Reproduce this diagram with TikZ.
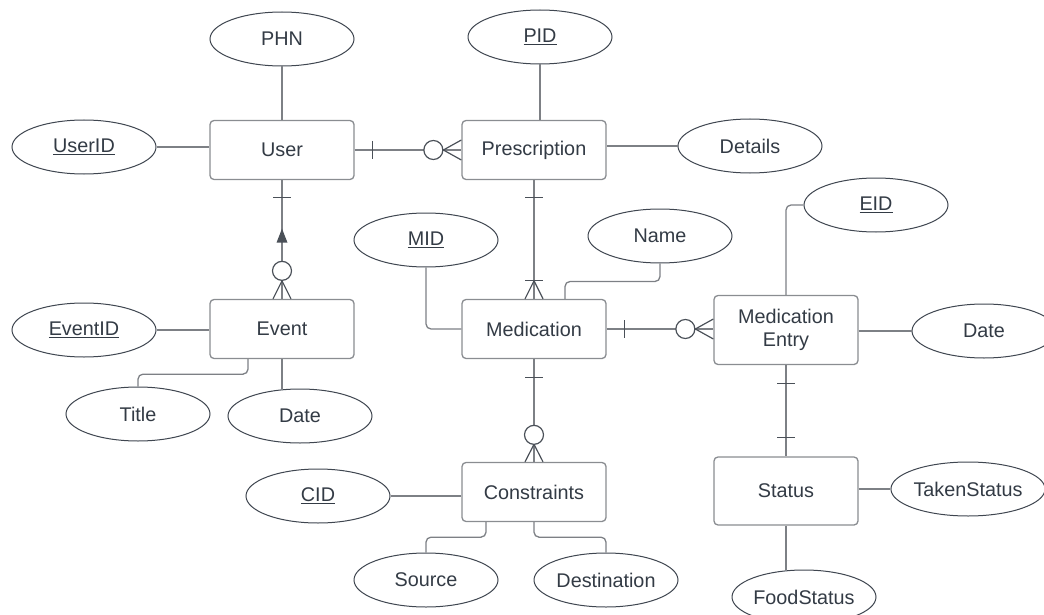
\documentclass[tikz,border=0pt]{standalone}
\usepackage{fontspec}
\setmainfont{Liberation Sans}
\usetikzlibrary{shapes.geometric}
\definecolor{txt}{HTML}{333B45}
\definecolor{entline}{HTML}{8A8D91}
\definecolor{ellline}{HTML}{3F4650}
\definecolor{conline}{HTML}{7D8085}
\definecolor{markline}{HTML}{4A5058}
\begin{document}
\begin{tikzpicture}[x=1pt,y=-1pt,
  every node/.style={font=\fontsize{19.8}{23}\selectfont, text=txt},
  entity/.style={draw=entline, line width=1.3pt, rounded corners=4pt,
    minimum width=144pt, minimum height=59pt, fill=white, align=center, inner sep=0pt},
  attr/.style={draw=ellline, line width=1pt, ellipse, fill=white,
    minimum width=144pt, minimum height=54pt, inner sep=0pt},
  conn/.style={draw=conline, line width=1.3pt},
  elbow/.style={conn, rounded corners=5pt},
  crow/.style={draw=markline, line width=1.2pt},
  ]
\useasboundingbox (0,0) rectangle (1044,615);
\clip (0,0) rectangle (1044,615);

% entities
\node[entity] (user)   at (282,150)   {User};
\node[entity] (presc)  at (534,150)   {Prescription};
\node[entity] (event)  at (282,329)   {Event};
\node[entity] (med)    at (534,329)   {Medication};
\node[entity, minimum height=69pt] (mentry) at (786,330) {Medication\\Entry};
\node[entity] (cons)   at (534,492)   {Constraints};
\node[entity, minimum height=68pt] (status) at (786,491) {Status};

% attributes
\node[attr] (phn)     at (282,39)  {PHN};
\node[attr] (userid)  at (84,147)  {\underline{UserID}};
\node[attr] (pid)     at (540,37)  {\underline{PID}};
\node[attr] (details) at (750,146) {Details};
\node[attr] (eid)     at (876,205) {\underline{EID}};
\node[attr] (name)    at (660,236) {Name};
\node[attr] (mid)     at (426,240) {\underline{MID}};
\node[attr] (eventid) at (84,330)  {\underline{EventID}};
\node[attr] (dateme)  at (984,331) {Date};
\node[attr] (title)   at (138,414) {Title};
\node[attr] (dateev)  at (300,416) {Date};
\node[attr] (cid)     at (318,496) {\underline{CID}};
\node[attr] (source)  at (426,580) {Source};
\node[attr] (dest)    at (606,580) {Destination};
\node[attr] (taken)   at (968,489) {TakenStatus};
\node[attr] (food)    at (804,597) {FoodStatus};

% attribute links
\draw[conn] (phn) -- (user);
\draw[conn] (userid.east) -- (userid.east -| user.west);
\draw[conn] (pid.south) -- (pid.south |- presc.north);
\draw[conn] (details.west) -- (details.west -| presc.east);
\draw[conn] (eventid.east) -- (eventid.east -| event.west);
\draw[elbow] ([xshift=-34pt]event.south) -- ++(0,15) -| (title.north);
\draw[conn] (event.south) -- (dateev.north -| event.south);
\draw[elbow] (mid.south) |- (med.west);
\draw[elbow] (name.south) -- ++(0,18) -| ([xshift=31pt]med.north);
\draw[elbow] (eid.west) -| (mentry.north);
\draw[conn] (mentry.east |- dateme.west) -- (dateme.west);
\draw[conn] (cid.east) -- (cid.east -| cons.west);
\draw[elbow] ([xshift=-48pt]cons.south) -- ++(0,15) -| (source.north);
\draw[elbow] (cons.south) -- ++(0,15) -| (dest.north);
\draw[conn] (status.east |- taken.west) -- (taken.west);
\draw[conn] (status.south) -- (status.south |- food.north);

% User -- Prescription: one to zero-or-many
\draw[conn] (user.east) -- (presc.west);
\draw[crow] (user.east) ++(18,-9) -- ++(0,18);
\draw[crow, fill=white] (presc.west) ++(-28,0) circle[radius=9.5pt];
\draw[crow] (presc.west) ++(-18,0) -- ++(18,-10) (presc.west) ++(-18,0) -- ++(18,10);

% User -- Event: one to zero-or-many, directed
\draw[conn] (user.south) -- (event.north);
\draw[crow] (user.south) ++(-9,17) -- ++(18,0);
\fill[markline] (user.south) ++(0,48.5) -- ++(-5.5,14) -- ++(11,0) -- cycle;
\draw[crow, fill=white] (event.north) ++(0,-28) circle[radius=9.5pt];
\draw[crow] (event.north) ++(0,-18) -- ++(-9,18) (event.north) ++(0,-18) -- ++(9,18);

% Prescription -- Medication: one to one-or-many
\draw[conn] (presc.south) -- (med.north);
\draw[crow] (presc.south) ++(-9,17.5) -- ++(18,0);
\draw[crow] (med.north) ++(-9,-18) -- ++(18,0);
\draw[crow] (med.north) ++(0,-18) -- ++(-9,18) (med.north) ++(0,-18) -- ++(9,18);

% Medication -- Medication Entry: one to zero-or-many
\draw[conn] (med.east) -- (med.east -| mentry.west);
\draw[crow] (med.east) ++(18,-9) -- ++(0,18);
\draw[crow, fill=white] (med.east -| mentry.west) ++(-28,0) circle[radius=9.5pt];
\draw[crow] (med.east -| mentry.west) ++(-18,0) -- ++(18,-10)
            (med.east -| mentry.west) ++(-18,0) -- ++(18,10);

% Medication -- Constraints: one to zero-or-many
\draw[conn] (med.south) -- (cons.north);
\draw[crow] (med.south) ++(-9,18.5) -- ++(18,0);
\draw[crow, fill=white] (cons.north) ++(0,-27) circle[radius=9.5pt];
\draw[crow] (cons.north) ++(0,-17.5) -- ++(-9,17.5) (cons.north) ++(0,-17.5) -- ++(9,17.5);

% Medication Entry -- Status: one to one
\draw[conn] (mentry.south) -- (status.north);
\draw[crow] (mentry.south) ++(-9,18.5) -- ++(18,0);
\draw[crow] (status.north) ++(-9,-19) -- ++(18,0);
\end{tikzpicture}
\end{document}
